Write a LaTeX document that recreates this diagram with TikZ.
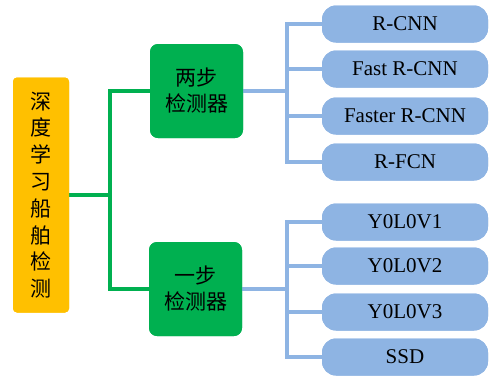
\documentclass[tikz,border=0pt]{standalone}
\usepackage{fontspec}
\setmainfont{Liberation Serif}
\newfontfamily\cjk{Noto Sans CJK SC}
\definecolor{rootfill}{HTML}{FFC000}
\definecolor{catfill}{HTML}{00B050}
\definecolor{leaffill}{HTML}{8EB4E3}
\definecolor{catline}{HTML}{00B050}
\definecolor{leafline}{HTML}{8EB4E3}
\begin{document}
\begin{tikzpicture}[x=1pt,y=-1pt,
  rootbox/.style={fill=rootfill, rounded corners=4pt, minimum width=56pt, minimum height=235pt,
    inner sep=0pt, align=center, font=\cjk\fontsize{21}{26.8}\selectfont},
  catbox/.style={fill=catfill, rounded corners=8pt, minimum width=93pt, minimum height=94pt,
    inner sep=0pt, align=center, font=\cjk\fontsize{21}{26}\selectfont},
  leafbox/.style={fill=leaffill, rounded corners=14pt, minimum width=166pt, minimum height=37pt,
    inner sep=0pt, font=\fontsize{21}{24}\selectfont},
  greenlink/.style={draw=catline, line width=3.2pt},
  bluelink/.style={draw=leafline, line width=3.2pt}]
\useasboundingbox (0,0) rectangle (490,376);

% empty boxes first so the connectors can be routed to their borders
\node[rootbox] (root) at (41,195) {\phantom{深}};
\node[catbox] (two) at (196.5,91) {\phantom{两}};
\node[catbox] (one) at (195.5,289) {\phantom{一}};
\node[leafbox] (l1) at (405,24) {\phantom{R}};
\node[leafbox] (l2) at (405,69) {\phantom{R}};
\node[leafbox] (l3) at (405,116) {\phantom{R}};
\node[leafbox] (l4) at (405,162) {\phantom{R}};
\node[leafbox] (l5) at (405,222) {\phantom{R}};
\node[leafbox] (l6) at (405,266) {\phantom{R}};
\node[leafbox] (l7) at (405,312) {\phantom{R}};
\node[leafbox] (l8) at (405,357) {\phantom{R}};

% junction points of the tree connectors, level with their parent boxes
\coordinate (gj) at (root.east -| 110,0);
\coordinate (bja) at (two.east -| 287,0);
\coordinate (bjb) at (one.east -| 287,0);

% tree connectors
\draw[greenlink] (root.east) -- (gj);
\draw[greenlink] (two.west) -| (gj) |- (one.west);

\draw[bluelink] (two.east) -- (bja);
\draw[bluelink] (l1.west) -| (bja) |- (l4.west);
\foreach \n in {l2,l3} \draw[bluelink] (bja) |- (\n.west);
\draw[bluelink] (one.east) -- (bjb);
\draw[bluelink] (l5.west) -| (bjb) |- (l8.west);
\foreach \n in {l6,l7} \draw[bluelink] (bjb) |- (\n.west);

% boxes with their labels
\node[rootbox] at (root) {深\\度\\学\\习\\船\\舶\\检\\测};
\node[catbox] at (two) {两步\\检测器};
\node[catbox] at (one) {一步\\检测器};
\node[leafbox] at (l1) {R-CNN};
\node[leafbox] at (l2) {Fast R-CNN};
\node[leafbox] at (l3) {Faster R-CNN};
\node[leafbox] at (l4) {R-FCN};
\node[leafbox] at (l5) {Y0L0V1};
\node[leafbox] at (l6) {Y0L0V2};
\node[leafbox] at (l7) {Y0L0V3};
\node[leafbox] at (l8) {SSD};
\end{tikzpicture}
\end{document}
